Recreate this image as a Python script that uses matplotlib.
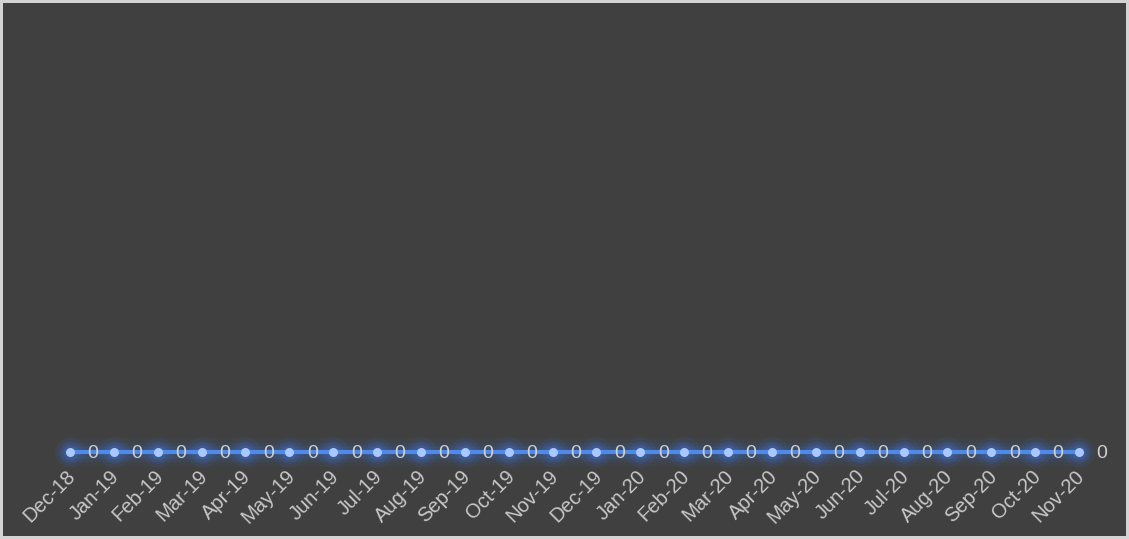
import numpy as np
import matplotlib
matplotlib.use("Agg")
from matplotlib import pyplot as plt
from matplotlib.transforms import ScaledTranslation

months = ["Dec-18", "Jan-19", "Feb-19", "Mar-19", "Apr-19", "May-19", "Jun-19",
          "Jul-19", "Aug-19", "Sep-19", "Oct-19", "Nov-19", "Dec-19", "Jan-20",
          "Feb-20", "Mar-20", "Apr-20", "May-20", "Jun-20", "Jul-20", "Aug-20",
          "Sep-20", "Oct-20", "Nov-20"]
values = [0] * 24

plt.rcParams['font.family'] = ['Liberation Sans', 'DejaVu Sans']

fig = plt.figure(figsize=(11.29, 5.39), dpi=100, facecolor='#404040',
                 edgecolor='#d4d4d4', linewidth=3)
ax = fig.add_axes([70/1129, 1 - 452/539, (1079-70)/1129, 440/539])
ax.set_facecolor('#404040')

x = np.arange(len(months))
y = np.array(values)

# soft glow around line and points
for lw, a in [(20, 0.04), (14, 0.07), (9, 0.10)]:
    ax.plot(x, y, color='#3d7fff', lw=lw, alpha=a, solid_capstyle='round', clip_on=False)
for ms, a in [(22, 0.08), (16, 0.12), (11, 0.15)]:
    ax.plot(x, y, 'o', color='#3d7fff', ms=ms, alpha=a, mec='none', clip_on=False)
ax.plot(x, y, color='#4f8ae8', lw=3, clip_on=False, zorder=3)
ax.plot(x, y, 'o', color='#a9c8ff', ms=6.5, mec='none', clip_on=False, zorder=4)

# value labels sit to the right of each point
for xi, v in zip(x, values):
    ax.annotate(str(v), (xi, v), xytext=(23, -1), textcoords='offset pixels',
                ha='center', va='center', color='#cfcfcf', fontsize=14,
                annotation_clip=False)

ax.set_xlim(0, len(months) - 1)
ax.set_ylim(0, 1)
ax.set_xticks(x)
ax.set_xticklabels(months, rotation=45, ha='right', rotation_mode='anchor',
                   color='#c8c8c8', fontsize=14.5)
ax.tick_params(axis='x', length=0, pad=9)
shift = ScaledTranslation(-4/100, -2/100, fig.dpi_scale_trans)
for lbl in ax.get_xticklabels():
    lbl.set_transform(lbl.get_transform() + shift)
ax.set_yticks([])
for s in ax.spines.values():
    s.set_visible(False)

fig.savefig('out.png', dpi=100, facecolor=fig.get_facecolor(),
            edgecolor=fig.get_edgecolor())
